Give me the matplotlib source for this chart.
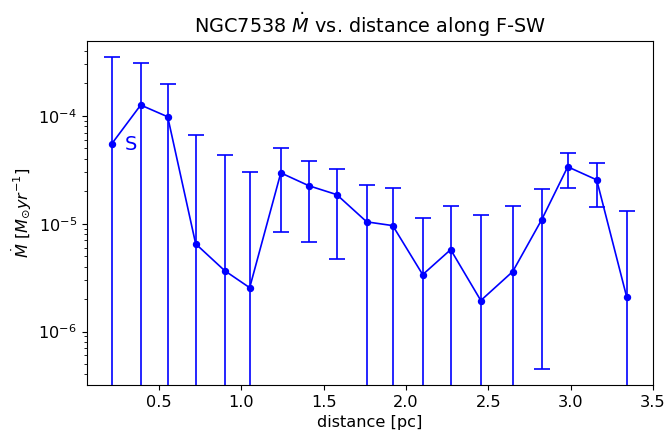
import matplotlib
matplotlib.use("Agg")
import matplotlib.pyplot as plt
import numpy as np

plt.rcParams['font.size'] = 11.6

# distance along F-SW [pc]
distance = [0.212, 0.388, 0.552, 0.722, 0.898, 1.05, 1.239, 1.409, 1.579, 1.761,
            1.919, 2.101, 2.271, 2.454, 2.648, 2.824, 2.982, 3.158, 3.341]
# mass-loss rate [Msun/yr]
mdot = [5.5e-5, 1.26e-4, 9.8e-5, 6.5e-6, 3.67e-6, 2.55e-6, 2.96e-5, 2.25e-5, 1.86e-5, 1.04e-5,
        9.6e-6, 3.37e-6, 5.75e-6, 1.94e-6, 3.6e-6, 1.09e-5, 3.37e-5, 2.55e-5, 2.07e-6]
# upper / lower ends of the error bars (1e-9 = runs off the bottom)
mdot_hi = [3.5e-4, 3.1e-4, 1.98e-4, 6.7e-5, 4.3e-5, 3.0e-5, 5.06e-5, 3.8e-5, 3.2e-5, 2.3e-5,
           2.15e-5, 1.14e-5, 1.47e-5, 1.21e-5, 1.47e-5, 2.1e-5, 4.54e-5, 3.67e-5, 1.32e-5]
mdot_lo = [1e-9, 1e-9, 1e-9, 1e-9, 1e-9, 1e-9, 8.3e-6, 6.7e-6, 4.7e-6, 1e-9,
           1e-9, 1e-9, 1e-9, 1e-9, 1e-9, 4.45e-7, 2.15e-5, 1.44e-5, 1e-9]

mdot = np.array(mdot)
yerr = [mdot - np.array(mdot_lo), np.array(mdot_hi) - mdot]

fig = plt.figure(figsize=(6.67, 4.32), dpi=100)
ax = fig.add_axes([0.130, 0.109, 0.849, 0.796])

ax.errorbar(distance, mdot, yerr=yerr, color="blue", marker="o", ms=4.3,
            lw=1.2, elinewidth=1.2, capsize=5.8, capthick=1.2)
ax.text(0.29, 5.4e-5, "S", color="blue", fontsize=14, ha="left", va="center")

ax.set_yscale("log")
ax.set_xlim(0.06, 3.5)
ax.set_ylim(3.2e-7, 4.94e-4)
ax.set_xlabel("distance [pc]")
ax.set_ylabel(r"$\dot{M}$ [$M_{\odot} yr^{-1}$]")
ax.set_title(r"NGC7538 $\dot{M}$ vs. distance along F-SW", fontsize=13.9)

fig.savefig("out.png")
